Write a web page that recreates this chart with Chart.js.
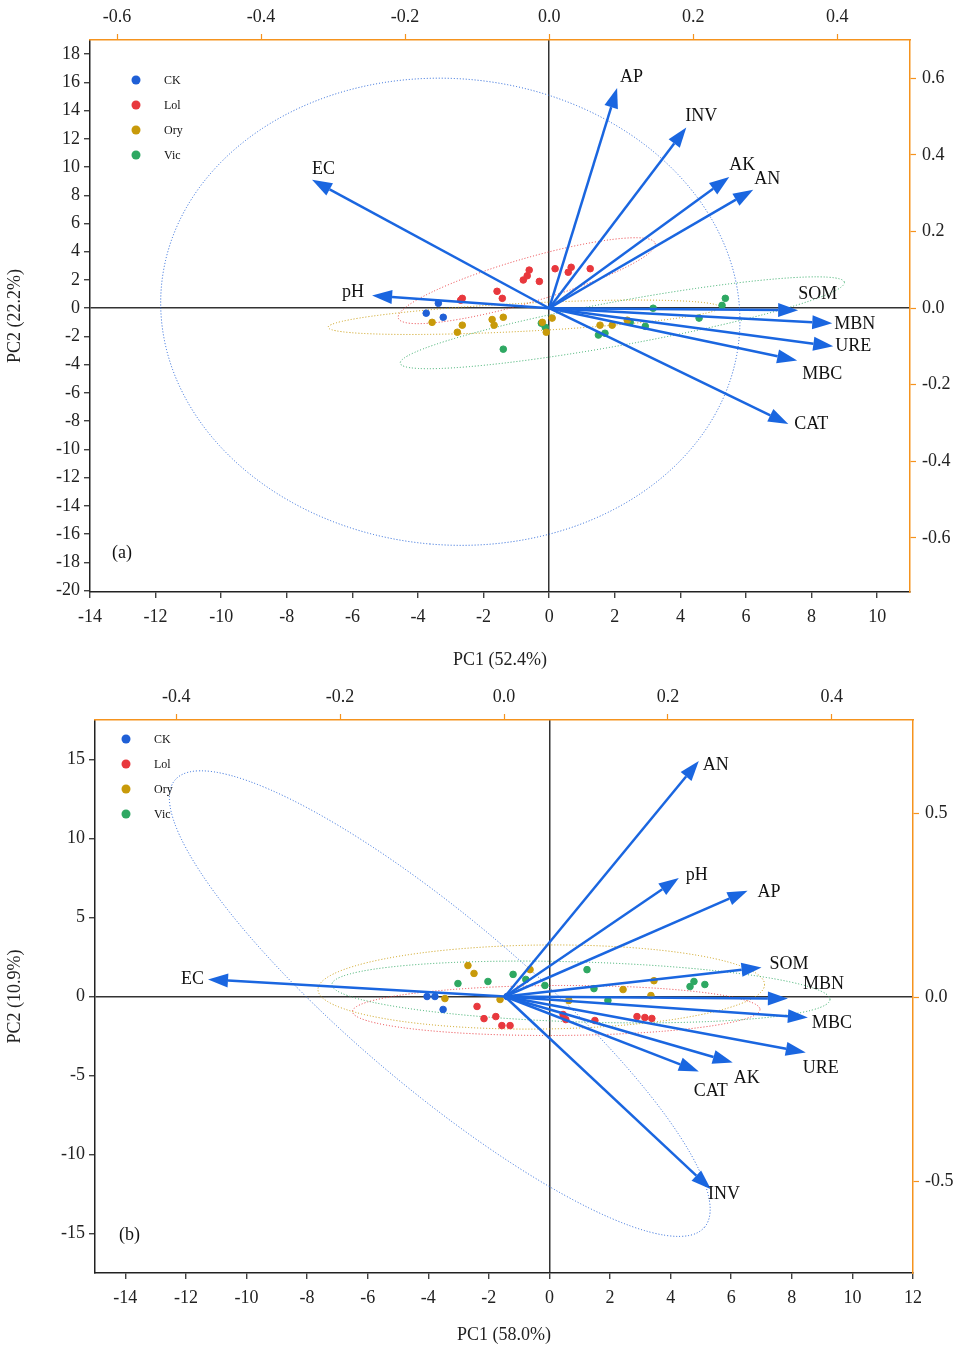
<!DOCTYPE html>
<html>
<head>
<meta charset="utf-8">
<script src="https://cdn.jsdelivr.net/npm/chart.js@4/dist/chart.umd.min.js"></script>
<style>
  body { margin: 0; background: #fff; }
  .wrap { position: relative; width: 979px; height: 675px; }
</style>
</head>
<body>
<div class="wrap"><canvas id="pcaA"></canvas></div>
<div class="wrap"><canvas id="pcaB"></canvas></div>
<script>
const groups = ["CK", "Lol", "Ory", "Vic"];
const groupColors = ["#1f5fd6", "#e8383d", "#c89a0a", "#2ea862"];

// (a) scores
const aCK = [[-3.75, -0.35], [-3.38, 0.35], [-3.23, -0.64]];
const aLol = [[-2.65, 0.7], [-2.7, 0.57], [-1.59, 1.2], [-1.43, 0.7], [-0.79, 2.0], [-0.67, 2.3], [-0.61, 2.7], [-0.3, 1.9], [0.18, 2.8], [0.58, 2.55], [0.67, 2.9], [1.25, 2.8]];
const aOry = [[-3.57, -1.0], [-2.8, -1.7], [-2.65, -1.2], [-1.74, -0.8], [-1.68, -1.2], [-1.4, -0.64], [-0.21, -1.0], [-0.09, -1.7], [0.09, -0.7], [1.55, -1.2], [1.92, -1.2], [2.38, -0.85]];
const aVic = [[-1.4, -2.9], [-0.24, -1.06], [-0.12, -1.35], [1.5, -1.9], [1.7, -1.77], [2.47, -1.0], [2.93, -1.28], [3.17, 0], [4.57, -0.7], [5.27, 0.2], [5.37, 0.7]];
// (a) loadings (in PC1/PC2 score units)
const aVars = ["AP", "INV", "AK", "AN", "EC", "pH", "SOM", "MBN", "URE", "MBC", "CAT"];
const aTips = [[2.07, 15.6], [4.18, 12.8], [5.49, 9.3], [6.22, 8.4], [-7.23, 9.1], [-5.4, 0.9], [7.59, -0.14], [8.63, -1.06], [8.66, -2.7], [7.56, -3.7], [7.29, -8.2]];
const aLabelOff = [[3, -11], [-1, -11], [0, -12], [1, -10], [0, -10], [-30, -3], [0, -16], [2, 1], [2, 0], [5, 14], [6, 0]];
const aOrigin = [0, 0];
// ellipse: major axis ends [x1,y1,x2,y2] in data units, minor half-width in px
const aEllipses = [[-2.4, 16.2, -3.63, -16.7, 290], [-4.6, -0.7, 3.23, 4.6, 22], [-6.74, -1.35, 5.2, 0.07, 14], [-4.54, -3.9, 9.0, 1.84, 22]];

// (b) scores
const bCK = [[-4.04, 0], [-3.78, 0], [-3.51, -0.82], [-1.4, 0]];
const bLol = [[-2.39, -0.63], [-2.16, -1.4], [-1.77, -1.27], [-1.57, -1.84], [-1.3, -1.84], [0.45, -1.14], [0.54, -1.46], [1.5, -1.52], [2.89, -1.27], [3.15, -1.33], [3.38, -1.39]];
const bOry = [[-3.45, -0.13], [-2.69, 1.96], [-2.49, 1.46], [-1.63, -0.19], [-0.64, 1.7], [0.64, -0.25], [2.43, 0.44], [3.35, 0.06], [3.45, 1.0]];
const bVic = [[-3.02, 0.82], [-2.03, 0.95], [-1.2, 1.4], [-0.78, 1.08], [-0.15, 0.7], [1.24, 1.7], [1.47, 0.5], [1.93, -0.25], [4.64, 0.63], [4.77, 0.95], [5.13, 0.76]];
const bVars = ["AN", "pH", "AP", "SOM", "MBN", "MBC", "URE", "AK", "CAT", "INV", "EC"];
const bTips = [[4.93, 14.9], [4.27, 7.5], [6.54, 6.7], [7.0, 1.84], [7.87, -0.13], [8.53, -1.33], [8.46, -3.54], [6.05, -4.18], [4.93, -4.75], [5.33, -12.2], [-11.27, 1.08]];
const bLabelOff = [[4, 4], [7, -3], [10, 2], [8, -3], [15, -14], [4, 6], [-3, 16], [1, 16], [-5, 20], [-3, 5], [-27, 0]];
const bOrigin = [-1.47, 0];
const bEllipses = [[-12.36, 13.7, 5.12, -14.6, 85], [-6.5, -0.95, 6.95, -0.82, 25], [-7.64, 0.44, 7.1, 0.76, 42], [-7.18, 0.76, 9.26, -0.19, 30]];

// ticks
const aXTicks = [-14, -12, -10, -8, -6, -4, -2, 0, 2, 4, 6, 8, 10];
const aYTicks = [-20, -18, -16, -14, -12, -10, -8, -6, -4, -2, 0, 2, 4, 6, 8, 10, 12, 14, 16, 18];
const aTopTicks = [-0.6, -0.4, -0.2, 0.0, 0.2, 0.4];
const aRightTicks = [-0.6, -0.4, -0.2, 0.0, 0.2, 0.4, 0.6];
const bXTicks = [-14, -12, -10, -8, -6, -4, -2, 0, 2, 4, 6, 8, 10, 12];
const bYTicks = [-15, -10, -5, 0, 5, 10, 15];
const bTopTicks = [-0.4, -0.2, 0.0, 0.2, 0.4];
const bRightTicks = [-0.5, 0.0, 0.5];

const FONT = "'Liberation Serif', 'DejaVu Serif', serif";
const ORANGE = "#f5931e";
const ARROW = "#1a66e0";

function toPts(arr) { return arr.map(([x, y]) => ({ x, y })); }

function pcaPlugin(cfg) {
  return {
    id: "pca",
    beforeDatasetsDraw(chart) {
      const { ctx } = chart;
      const xs = chart.scales.x, ys = chart.scales.y;
      ctx.save();
      ctx.setLineDash([1, 2]);
      ctx.lineWidth = 1;
      cfg.ellipses.forEach((e, i) => {
        const x1 = xs.getPixelForValue(e[0]), y1 = ys.getPixelForValue(e[1]);
        const x2 = xs.getPixelForValue(e[2]), y2 = ys.getPixelForValue(e[3]);
        const cx = (x1 + x2) / 2, cy = (y1 + y2) / 2;
        const a = Math.hypot(x2 - x1, y2 - y1) / 2;
        const ang = Math.atan2(y2 - y1, x2 - x1);
        ctx.strokeStyle = groupColors[i];
        ctx.beginPath();
        ctx.ellipse(cx, cy, a, e[4], ang, 0, Math.PI * 2);
        ctx.stroke();
      });
      ctx.restore();
    },
    afterDatasetsDraw(chart) {
      const { ctx } = chart;
      const xs = chart.scales.x, ys = chart.scales.y;
      const ox = xs.getPixelForValue(cfg.origin[0]), oy = ys.getPixelForValue(cfg.origin[1]);
      ctx.save();
      ctx.strokeStyle = ARROW;
      ctx.fillStyle = ARROW;
      ctx.lineWidth = 2.5;
      cfg.tips.forEach((t) => {
        const tx = xs.getPixelForValue(t[0]), ty = ys.getPixelForValue(t[1]);
        const ang = Math.atan2(ty - oy, tx - ox);
        const hl = 20, hw = 7;
        const bx = tx - hl * Math.cos(ang), by = ty - hl * Math.sin(ang);
        ctx.beginPath();
        ctx.moveTo(ox, oy);
        ctx.lineTo(bx, by);
        ctx.stroke();
        ctx.beginPath();
        ctx.moveTo(tx, ty);
        ctx.lineTo(bx + hw * Math.sin(ang), by - hw * Math.cos(ang));
        ctx.lineTo(bx - hw * Math.sin(ang), by + hw * Math.cos(ang));
        ctx.closePath();
        ctx.fill();
      });
      // variable labels
      ctx.fillStyle = "#111";
      ctx.font = "18px " + FONT;
      ctx.textBaseline = "middle";
      ctx.textAlign = "left";
      cfg.tips.forEach((t, i) => {
        const tx = xs.getPixelForValue(t[0]), ty = ys.getPixelForValue(t[1]);
        ctx.fillText(cfg.vars[i], tx + cfg.labelOff[i][0], ty + cfg.labelOff[i][1]);
      });
      // legend
      const area = chart.chartArea;
      ctx.font = "12px " + FONT;
      groups.forEach((g, i) => {
        const lx = area.left + cfg.legend[0], ly = area.top + cfg.legend[1] + i * 25;
        ctx.fillStyle = groupColors[i];
        ctx.beginPath();
        ctx.arc(lx, ly, 4.5, 0, Math.PI * 2);
        ctx.fill();
        ctx.fillStyle = "#111";
        ctx.fillText(g, lx + 28, ly + 1);
      });
      ctx.font = "18px " + FONT;
      ctx.fillText(cfg.panel, area.left + cfg.panelPos[0], area.top + cfg.panelPos[1]);
      ctx.restore();
    }
  };
}

function makeChart(id, cfg) {
  const tickFont = { family: FONT, size: 18 };
  const fixed = (size, dim) => (s) => { s[dim] = size; };
  const setTicks = (vals) => (s) => { s.ticks = vals.map((v) => ({ value: v })); };
  const zeroGrid = (tc) => ({
    drawTicks: true, tickLength: 6, tickColor: tc, tickWidth: 1.2,
    color: (c) => (c.tick && c.tick.value === 0 ? "#333" : "transparent"), lineWidth: 1.5,
  });
  const sideGrid = { drawOnChartArea: false, drawTicks: true, tickLength: 6, tickColor: ORANGE, tickWidth: 1.2 };
  new Chart(document.getElementById(id), {
    type: "scatter",
    data: {
      datasets: cfg.scores.map((s, i) => ({
        label: groups[i],
        data: toPts(s),
        backgroundColor: groupColors[i],
        borderColor: groupColors[i],
        pointRadius: 3.3,
      })),
    },
    options: {
      responsive: false,
      animation: false,
      layout: { padding: 0 },
      plugins: { legend: { display: false }, tooltip: { enabled: false } },
      scales: {
        x: {
          type: "linear", position: "bottom", min: cfg.xRange[0], max: cfg.xRange[1],
          afterBuildTicks: setTicks(cfg.xTicks), afterFit: fixed(cfg.pad.bottom, "height"),
          grid: zeroGrid("#222"),
          border: { color: "#222", width: 1.5 },
          ticks: { font: tickFont, color: "#222", padding: 8 },
          title: { display: true, text: cfg.xTitle, font: tickFont, color: "#222", padding: { top: 4 } },
        },
        y: {
          type: "linear", position: "left", min: cfg.yRange[0], max: cfg.yRange[1],
          afterBuildTicks: setTicks(cfg.yTicks), afterFit: fixed(cfg.pad.left, "width"),
          grid: zeroGrid("#222"),
          border: { color: "#222", width: 1.5 },
          ticks: { font: tickFont, color: "#222", padding: 4 },
          title: { display: true, text: cfg.yTitle, font: tickFont, color: "#222", padding: { bottom: 0 } },
        },
        x2: {
          type: "linear", position: "top", min: cfg.topRange[0], max: cfg.topRange[1],
          afterBuildTicks: setTicks(cfg.topTicks), afterFit: fixed(cfg.pad.top, "height"),
          grid: sideGrid,
          border: { color: ORANGE, width: 1.5 },
          ticks: { font: tickFont, color: "#222", padding: 6, callback: (v) => v.toFixed(1) },
        },
        y2: {
          type: "linear", position: "right", min: cfg.rightRange[0], max: cfg.rightRange[1],
          afterBuildTicks: setTicks(cfg.rightTicks), afterFit: fixed(cfg.pad.right, "width"),
          grid: sideGrid,
          border: { color: ORANGE, width: 1.5 },
          ticks: { font: tickFont, color: "#222", padding: 6, callback: (v) => v.toFixed(1) },
        },
      },
    },
    plugins: [pcaPlugin(cfg)],
  });
}

function sizeCanvas(id) {
  const c = document.getElementById(id);
  c.width = 979; c.height = 675;
  c.style.width = "979px"; c.style.height = "675px";
}
sizeCanvas("pcaA");
sizeCanvas("pcaB");

makeChart("pcaA", {
  scores: [aCK, aLol, aOry, aVic], vars: aVars, tips: aTips, labelOff: aLabelOff, origin: aOrigin,
  ellipses: aEllipses, xRange: [-14.0, 11.0], yRange: [-20.1, 19.0], topRange: [-0.6375, 0.501], rightRange: [-0.741, 0.70],
  xTicks: aXTicks, yTicks: aYTicks, topTicks: aTopTicks, rightTicks: aRightTicks,
  xTitle: "PC1 (52.4%)", yTitle: "PC2 (22.2%)", pad: { left: 90, right: 69, top: 40, bottom: 83 },
  legend: [46, 40], panel: "(a)", panelPos: [22, 513],
});

makeChart("pcaB", {
  scores: [bCK, bLol, bOry, bVic], vars: bVars, tips: bTips, labelOff: bLabelOff, origin: bOrigin,
  ellipses: bEllipses, xRange: [-15.0, 12.0], yRange: [-17.5, 17.5], topRange: [-0.499, 0.499], rightRange: [-0.75, 0.753],
  xTicks: bXTicks, yTicks: bYTicks, topTicks: bTopTicks, rightTicks: bRightTicks,
  xTitle: "PC1 (58.0%)", yTitle: "PC2 (10.9%)", pad: { left: 95, right: 66, top: 45, bottom: 77 },
  legend: [31, 19], panel: "(b)", panelPos: [24, 515],
});
</script>
</body>
</html>
